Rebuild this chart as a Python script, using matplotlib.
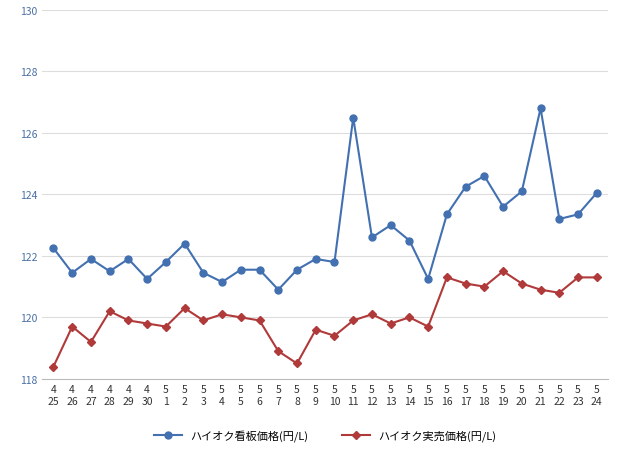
import matplotlib
matplotlib.use("Agg")
import matplotlib.pyplot as plt

months = ["4"]*6 + ["5"]*24
days = ["25","26","27","28","29","30"] + [str(i) for i in range(1,25)]
labels = [f"{m}\n{d}" for m, d in zip(months, days)]
kanban = [122.25,121.45,121.9,121.5,121.9,121.25,121.8,122.4,121.45,121.15,121.55,121.55,120.9,121.55,121.9,121.8,
          126.5,122.6,123.0,122.5,121.25,123.35,124.25,124.6,123.6,124.1,126.8,123.2,123.35,124.05]
jitsubai = [118.4,119.7,119.2,120.2,119.9,119.8,119.7,120.3,119.9,120.1,120.0,119.9,118.9,118.5,119.6,119.4,
            119.9,120.1,119.8,120.0,119.7,121.3,121.1,121.0,121.5,121.1,120.9,120.8,121.3,121.3]
yticks = [118,120,122,124,126,128,130]

plt.rcParams["font.family"] = ["Noto Sans CJK JP", "DejaVu Sans"]
fig = plt.figure(figsize=(6.4,4.56), dpi=100)
ax = fig.add_axes([0.066, 0.167, 0.884, 0.809])
x = list(range(len(labels)))
ax.plot(x, kanban, color="#4270b0", marker="o", ms=5, lw=1.5, label="ハイオク看板価格(円/L)")
ax.plot(x, jitsubai, color="#b03a3a", marker="D", ms=4, lw=1.5, label="ハイオク実売価格(円/L)")
ax.set_ylim(118,130)
ax.set_xlim(-0.6, len(labels)-0.4)
ax.set_yticks(yticks)
ax.set_xticks(x)
ax.set_xticklabels(labels, fontsize=7.5, color="#333333", linespacing=1.3)
ax.tick_params(axis="y", labelsize=7.5, labelcolor="#4a6fa5", length=0)
ax.tick_params(axis="x", length=0)
ax.grid(axis="y", color="#dddddd", lw=0.8)
for s in ["top","right","left"]:
    ax.spines[s].set_visible(False)
ax.spines["bottom"].set_color("#bbbbbb")
ax.legend(loc="upper center", bbox_to_anchor=(0.5, -0.11), ncol=2, frameon=False, fontsize=8, handlelength=2.5, columnspacing=3)
fig.savefig("out.png", dpi=100)
